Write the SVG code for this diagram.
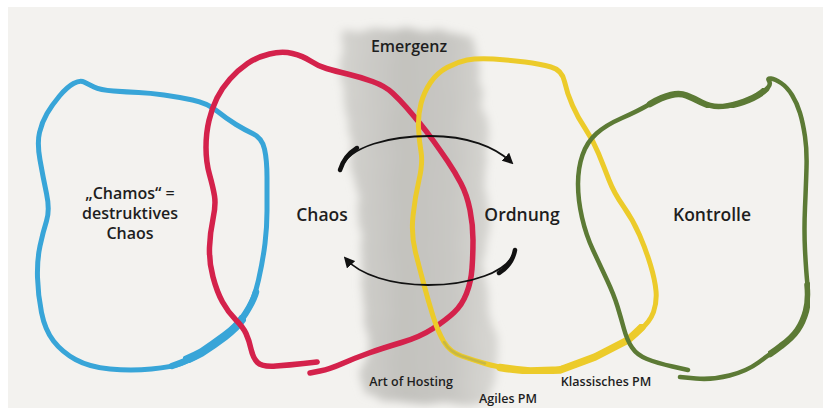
<svg xmlns="http://www.w3.org/2000/svg" width="823" height="408" viewBox="0 0 823 408">
<defs>
<style>
.loop{fill:none;stroke-linecap:round;stroke-linejoin:round;filter:url(#soft)}
.blue{stroke:#38a5d8}
.red{stroke:#d4214c}
.yel{stroke:#eccb2c}
.grn{stroke:#5b7a34}
.lbl{font-family:"Open Sans","Liberation Sans",sans-serif;font-weight:600;fill:#1e1e1e;text-anchor:middle}
.big{font-size:17.5px}
.mid{font-size:16px}
.sm{font-size:12.5px}
.arc{fill:none;stroke:#111;stroke-linecap:round}
</style>
<filter id="soft" x="-5%" y="-5%" width="110%" height="110%"><feGaussianBlur stdDeviation="0.6"/></filter>
<filter id="rough" x="-30%" y="-20%" width="160%" height="140%">
<feTurbulence type="fractalNoise" baseFrequency="0.035" numOctaves="2" seed="4" result="n"/>
<feDisplacementMap in="SourceGraphic" in2="n" scale="11" xChannelSelector="R" yChannelSelector="G" result="d"/>
<feGaussianBlur in="d" stdDeviation="4.5"/>
</filter>
<linearGradient id="bandg" x1="0" y1="0" x2="1" y2="0">
<stop offset="0" stop-color="#d4d3cf"/>
<stop offset="0.4" stop-color="#c3c2be"/>
<stop offset="0.7" stop-color="#c8c7c3"/>
<stop offset="1" stop-color="#d9d8d4"/>
</linearGradient>
<marker id="ah" viewBox="0 0 10 10" refX="7" refY="5" markerWidth="11" markerHeight="11" markerUnits="userSpaceOnUse" orient="auto">
<path d="M0,0 L10,5 L0,10 z" fill="#111"/>
</marker>
</defs>
<rect width="823" height="408" fill="#ffffff"/>
<rect x="8" y="7" width="815" height="401" fill="#f3f2ef"/>

<g id="emergenz">
<path d="M343,31 L380,28 L420,30 L455,32 L472,38 L478,60 L483,100 L488,140 L485,180 L490,220 L484,260 L488,300 L493,330 L498,360 L497,385 L490,400 L460,405 L420,404 L385,400 L365,393 L360,375 L368,345 L365,310 L362,270 L360,230 L355,190 L352,150 L345,110 L341,70 Z" fill="url(#bandg)" filter="url(#rough)"/>
<text class="lbl mid" x="409" y="52">Emergenz</text>
</g>

<g id="chamos">
<path class="loop blue" stroke-width="5" d="M73.5,83.5 Q80,80 84,82 Q88,84 94,87 Q100,90 113.5,91 Q127,92 138.5,92.5 Q150,93 164,95 Q178,97 192.5,100 Q207,103 217,111 Q227,119 236,124.5 Q245,130 253.5,134 Q262,138 264.5,149 Q267,160 267,177.5 Q267,195 267,211 Q267,227 265,243.5 Q263,260 258.5,280 Q254,300 245.5,313.5 Q237,327 225,336 Q213,345 201.5,352.5 Q190,360 181,363.5 Q172,367 151.5,369 Q131,371 110,369 Q89,367 75.5,359.5 Q62,352 53.5,341 Q45,330 41.5,312.5 Q38,295 37.5,277.5 Q37,260 40,246 Q43,232 46.5,221 Q50,210 46.5,193.5 Q43,177 40,160 Q37,143 39.5,132.5 Q42,122 47,113.5 Q52,105 59.5,96 Q67,87 73.5,83.5 Z"/>
<path class="loop blue" stroke-width="6.5" d="M256,292 Q254,300 245.5,313.5 Q237,327 225,336 Q213,345 201.5,352.5 Q190,360 172,366"/>
<path class="loop blue" stroke-width="8.5" d="M243,318 Q237,327 225,336 Q213,345 201.5,352.5 Q195,356 186,360"/>
<text class="lbl mid" x="130" y="199">„Chamos“ =</text>
<text class="lbl mid" x="130" y="219">destruktives</text>
<text class="lbl mid" x="130" y="239">Chaos</text>
</g>

<g id="chaos">
<path class="loop red" stroke-width="5.5" d="M317,362 L303.5,363.5 Q290,365 276,366 Q262,367 257.5,362.5 Q253,358 251,349 Q249,340 246,333.5 Q243,327 235.5,319.5 Q228,312 222.5,302 Q217,292 213,277 Q209,262 209.5,247.5 Q210,233 213,219 Q216,205 214.5,196 Q213,187 209.5,174.5 Q206,162 206,147.5 Q206,133 209,120.5 Q212,108 217,98 Q222,88 230,79 Q238,70 247.5,63.5 Q257,57 269.5,54 Q282,51 292.5,53.5 Q303,56 310.5,61 Q318,66 326.5,68.5 Q335,71 347.5,74 Q360,77 372.5,81.5 Q385,86 392.5,93 Q400,100 406.5,107.5 Q413,115 420,123.5 Q427,132 433.5,141 Q440,150 447.5,161 Q455,172 461,183.5 Q467,195 470,210 Q473,225 473,240 Q473,255 472,268.5 Q471,282 466.5,293.5 Q462,305 454,312.5 Q446,320 433,328.5 Q420,337 401.5,342.5 Q383,348 369,353 Q355,358 342.5,363.5 Q330,369 320,371 L310,373"/>
<path class="loop red" stroke-width="3" d="M318,362 L303.5,363.5 Q296,364.5 290,365"/>
<text class="lbl big" x="322" y="221">Chaos</text>
</g>

<g id="ordnung">
<path class="loop yel" stroke-width="5" d="M447,67.5 Q457,62 467,60 Q477,58 493.5,59 Q510,60 525,62 Q540,64 551,67 Q562,70 564.5,81.5 Q567,93 572.5,105.5 Q578,118 585.5,129 Q593,140 598.5,153.5 Q604,167 609,180 Q614,193 623.5,206.5 Q633,220 639.5,235 Q646,250 650.5,265 Q655,280 656,291 Q657,302 653.5,312 Q650,322 639,331 Q628,340 611.5,348.5 Q595,357 577.5,363.5 Q560,370 545,370.5 Q530,371 513.5,369 Q497,367 485,363.5 Q473,360 461.5,356 Q450,352 444,342 Q438,332 433,316 Q428,300 424,285 Q420,270 415.5,252.5 Q411,235 413,216 Q415,197 419,180 Q423,163 421,151.5 Q419,140 418.5,127.5 Q418,115 421,103.5 Q424,92 430.5,82.5 Q437,73 447,67.5 Z"/>
<path class="loop yel" stroke-width="7.5" d="M500,367.5 Q513,369.5 530,371 Q545,370.5 560,370 Q577.5,363.5 595,357 Q611.5,348.5 628,340 Q636,333 642,327"/>
<path class="loop" stroke="#b9b04e" stroke-width="2.5" opacity="0.7" d="M485,363.5 Q473,360 461.5,356 Q450,352 444,342"/>
<text class="lbl big" x="522" y="221">Ordnung</text>
</g>

<g id="kontrolle">
<path class="loop grn" stroke-width="4.5" d="M688,370 L672.5,366.5 Q657,363 647,359 Q637,355 632,347.5 Q627,340 624,329 Q621,318 617.5,306.5 Q614,295 607,280 Q600,265 593,250 Q586,235 582,217.5 Q578,200 578,184 Q578,168 582.5,155 Q587,142 596.5,133.5 Q606,125 622,118 Q638,111 650,104 Q662,97 671,95 Q680,93 686.5,95.5 Q693,98 701.5,102.5 Q710,107 718.5,107 Q727,107 738.5,103.5 Q750,100 757.5,95.5 Q765,91 768,87.5 Q771,84 769,81 Q767,78 771,78.5 Q775,79 781,83 Q787,87 792,95 Q797,103 800,113 Q803,123 805,136.5 Q807,150 806.5,167.5 Q806,185 805,207.5 Q804,230 805,250 Q806,270 807.5,285 Q809,300 806,311 Q803,322 797.5,330 Q792,338 781,346 Q770,354 758.5,362.5 Q747,371 729.5,375.5 Q712,380 696,378.5 L680,377"/>
<path class="loop grn" stroke-width="6.5" d="M650,104 Q662,97 671,95 Q680,93 686.5,95.5 Q693,98 701.5,102.5 Q710,107 718.5,107 Q727,107 738.5,103.5 Q750,100 757.5,95.5 Q763,92 766,89"/>
<path class="loop grn" stroke-width="6.5" d="M807.5,285 Q809,300 806,311 Q803,322 797.5,330 Q792,338 781,346 Q776,350 770,354"/>
<text class="lbl big" x="712" y="221">Kontrolle</text>
</g>

<g id="connectors">
<path class="arc" stroke-width="1.8" d="M341,168 C350,146 390,136 430,136 C468,136 495,147 511,162" marker-end="url(#ah)"/>
<path class="arc" stroke-width="4.5" d="M340,170 C343,160 349,153 357,148"/>
<path class="arc" stroke-width="1.8" d="M514,252 C508,272 470,285 428,285 C392,285 360,275 346,259" marker-end="url(#ah)"/>
<path class="arc" stroke-width="4.5" d="M515,250 C513,261 507,268 499,273"/>
</g>

<g id="labels">
<text class="lbl sm" x="411" y="386">Art of Hosting</text>
<text class="lbl sm" x="508" y="403">Agiles PM</text>
<text class="lbl sm" x="606" y="386">Klassisches PM</text>
</g>
</svg>
